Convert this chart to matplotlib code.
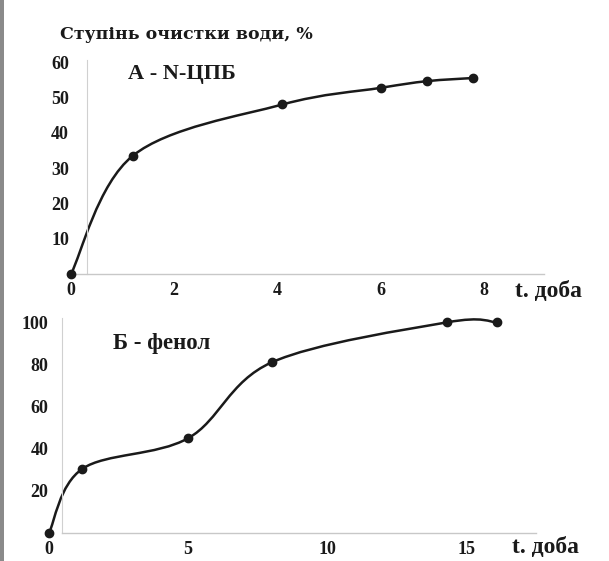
import numpy as np
import matplotlib.pyplot as plt
from matplotlib.path import Path
from matplotlib.patches import PathPatch, Rectangle

# дані: ступінь очистки води, %
t_a = [0, 1.2, 4.1, 6.0, 6.9, 7.8]
y_a = [0, 33.5, 48, 52.7, 54.6, 55.5]
t_b = [0, 1.2, 5.0, 8.0, 14.3, 16.1]
y_b = [0, 30.5, 45, 81, 100, 100]

ticks_a_x = [0, 2, 4, 6, 8]
ticks_a_y = [10, 20, 30, 40, 50, 60]
ticks_b_x = [0, 5, 10, 15]
ticks_b_y = [20, 40, 60, 80, 100]

plt.rcParams['font.family'] = ['Liberation Serif', 'DejaVu Serif']
plt.rcParams['font.weight'] = 'bold'
ink = '#1a1a1a'


def smooth_path(x, y):
    # Catmull-Rom -> Bezier, drawn in data coordinates
    p = np.column_stack([x, y]).astype(float)
    pts = np.vstack([p[0], p, p[-1]])
    verts = [p[0]]
    codes = [Path.MOVETO]
    for i in range(1, len(pts) - 2):
        c1 = pts[i] + (pts[i + 1] - pts[i - 1]) / 6
        c2 = pts[i + 1] - (pts[i + 2] - pts[i]) / 6
        verts += [c1, c2, pts[i + 1]]
        codes += [Path.CURVE4] * 3
    return Path(verts, codes)


def style(ax, spine_x, pad_y, x0, x1):
    for s in ['top', 'right']:
        ax.spines[s].set_visible(False)
    ax.spines['left'].set_position(('data', spine_x))
    ax.spines['left'].set_color('#d0d0d0')
    ax.spines['left'].set_linewidth(0.8)
    ax.spines['bottom'].set_color('#c8c8c8')
    ax.spines['bottom'].set_linewidth(1.0)
    ax.spines['bottom'].set_bounds(x0, x1)
    ax.tick_params(length=0, labelsize=13, colors=ink)
    ax.tick_params(axis='y', pad=pad_y)
    ax.tick_params(axis='x', pad=6)
    ax.patch.set_alpha(0)


fig = plt.figure(figsize=(6.09, 5.61), dpi=100)
fig.add_artist(Rectangle((0, 0), 0.007, 1, transform=fig.transFigure,
                         color='#8a8a8a', lw=0))

# A - N-ЦПБ
ax1 = fig.add_axes([0.1166, 0.5116, 0.7767, 0.3815])
ax1.add_patch(PathPatch(smooth_path(t_a, y_a), fill=False, ec=ink, lw=1.8,
                        clip_on=False))
ax1.plot(t_a, y_a, 'o', color=ink, ms=6, clip_on=False, zorder=3)
ax1.set_xticks(ticks_a_x)
ax1.set_yticks(ticks_a_y)
style(ax1, 0.31, 13, 0, 9.17)
ax1.set_xlim(0, 9.17)
ax1.set_ylim(0, 60.6)
ax1.text(1.1, 56.5, 'А - N-ЦПБ', fontsize=16, color=ink, va='center')
fig.text(0.098, 0.938, 'Ступінь очистки води, %', fontsize=12.5, color=ink,
         va='center', family='DejaVu Serif')
fig.text(0.845, 0.481, 't. доба', fontsize=17, color=ink, va='center')

# Б - фенол
ax2 = fig.add_axes([0.0805, 0.0499, 0.7997, 0.383])
ax2.add_patch(PathPatch(smooth_path(t_b, y_b), fill=False, ec=ink, lw=1.8,
                        clip_on=False))
ax2.plot(t_b, y_b, 'o', color=ink, ms=6, clip_on=False, zorder=3)
ax2.set_xticks(ticks_b_x)
ax2.set_yticks(ticks_b_y)
style(ax2, 0.47, 10, 0.47, 17.5)
ax2.set_xlim(0, 17.5)
ax2.set_ylim(0, 102)
ax2.text(2.3, 90, 'Б - фенол', fontsize=16.5, color=ink, va='center')
fig.text(0.841, 0.024, 't. доба', fontsize=17, color=ink, va='center')

fig.savefig('out.png', dpi=100, facecolor='white')
